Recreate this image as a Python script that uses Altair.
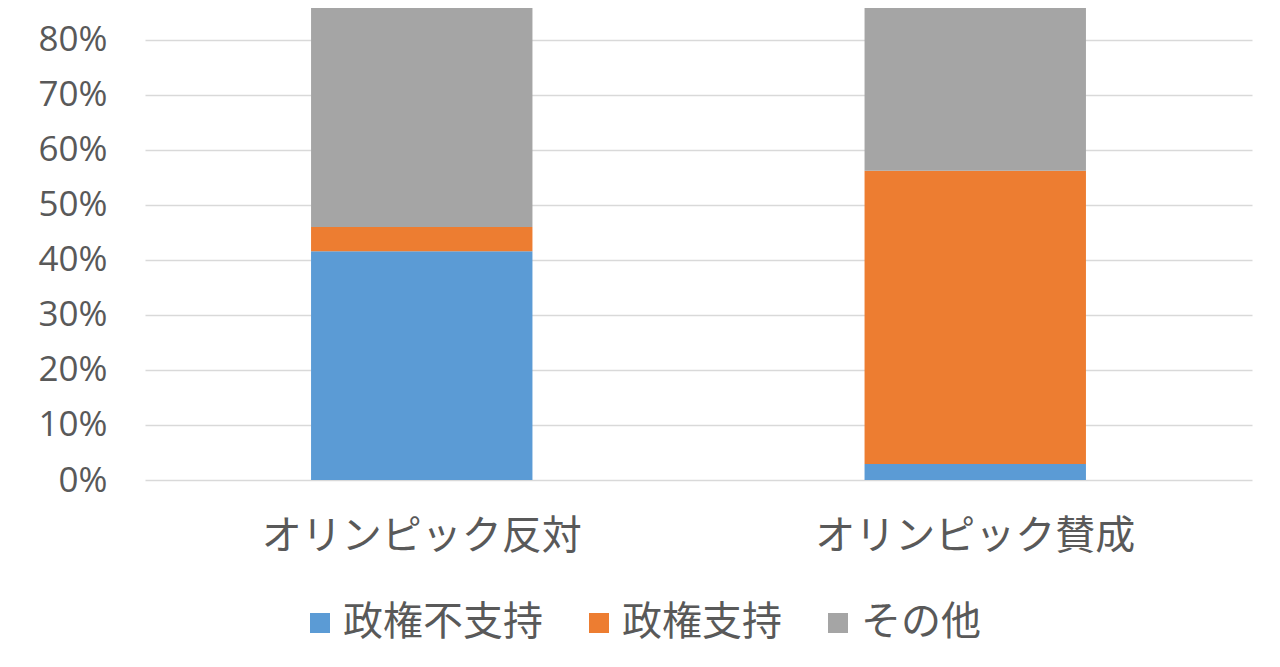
import altair as alt
import pandas as pd

categories = ["オリンピック反対", "オリンピック賛成"]
series = ["政権不支持", "政権支持", "その他"]
not_support = [41.6, 2.9]
support = [4.4, 53.3]
other = [54.0, 43.8]
colors = ["#5B9BD5", "#ED7D31", "#A5A5A5"]
tick_values = [0, 0.1, 0.2, 0.3, 0.4, 0.5, 0.6, 0.7, 0.8]

rows = []
for i, c in enumerate(categories):
    for j, (s, vals) in enumerate(zip(series, [not_support, support, other])):
        rows.append({"cat": c, "series": s, "value": vals[i] / 100, "ord": j})
df = pd.DataFrame(rows)

TEXT = "#595959"
JP = "Noto Sans CJK JP"

chart = alt.Chart(df).mark_bar(clip=True).encode(
    x=alt.X("cat:N", sort=categories,
            scale=alt.Scale(paddingInner=0.6, paddingOuter=0.3),
            axis=alt.Axis(title=None, labelAngle=0, domain=False, ticks=False,
                          labelFontSize=40, labelFont=JP, labelColor=TEXT,
                          labelPadding=36, labelLimit=0, labelFontWeight="normal")),
    y=alt.Y("value:Q", stack="zero",
            scale=alt.Scale(domain=[0, 0.858], nice=False),
            axis=alt.Axis(title=None, values=tick_values, format=".0%",
                          domain=False, ticks=False, labelPadding=38,
                          labelFontSize=35, labelFont="Open Sans", labelColor=TEXT,
                          gridColor="#d9d9d9", gridWidth=1.5)),
    color=alt.Color("series:N", sort=series,
                    scale=alt.Scale(domain=series, range=colors),
                    legend=alt.Legend(title=None, orient="none", legendX=155, legendY=595,
                                      direction="horizontal", symbolType="square",
                                      symbolSize=400, symbolStrokeWidth=0,
                                      labelFontSize=40, labelFont=JP, labelColor=TEXT,
                                      labelLimit=0, columnPadding=36, labelOffset=3)),
    order=alt.Order("ord:Q", sort="ascending"),
).properties(
    width=1107, height=472,
    autosize=alt.AutoSizeParams(type="none"),
    padding={"left": 137, "top": 0, "right": 20, "bottom": 180},
).configure_view(stroke=None)

chart.save("out.html", embed_options={"renderer": "svg", "actions": False})
